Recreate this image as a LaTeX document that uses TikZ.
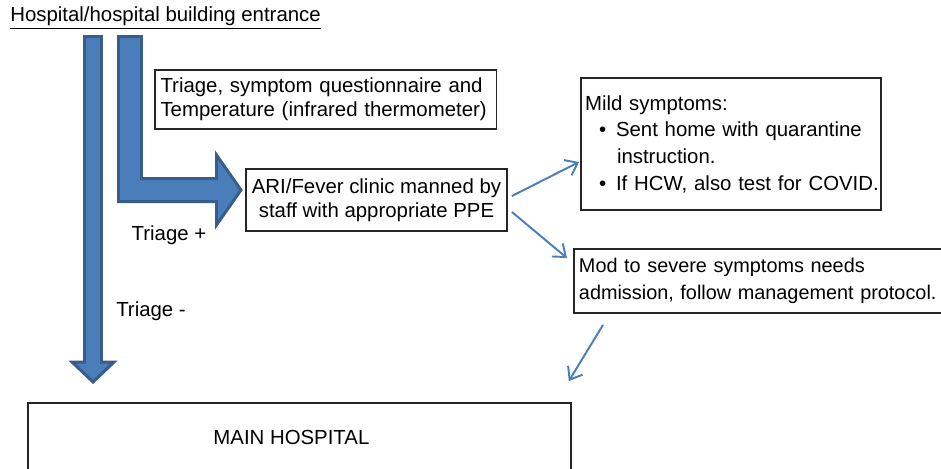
\documentclass[tikz,border=0pt]{standalone}
\usepackage{fontspec}
\setmainfont{Liberation Sans}
\usetikzlibrary{arrows.meta}

\definecolor{arrowfill}{HTML}{4A7EBB}
\definecolor{arrowline}{HTML}{385D8A}

\begin{document}
\begin{tikzpicture}[x=0.02cm, y=-0.02cm,
  every node/.style={font=\fontsize{11.6}{13.6}\selectfont},
  box/.style={draw=black!85, line width=1.1pt, inner ysep=0pt},
  bigarrow/.style={fill=arrowfill, draw=arrowline, line width=1.7pt, line join=miter},
  thinarrow/.style={draw=arrowfill, line width=1.1pt, -{Straight Barb[length=2.2mm, width=3.4mm]}}]

\useasboundingbox (0,0) rectangle (941,468);

% Entrance
\node[anchor=west, inner sep=0pt] (entrance) at (10,18) {\underline{Hospital/hospital building entrance}};

% Big arrows
\draw[bigarrow] (84.5,36.5) -- (101.5,36.5) -- (101.5,362) -- (114,362) -- (93,382) -- (72,362) -- (84.5,362) -- cycle;
\draw[bigarrow] (118.5,36.5) -- (141.5,36.5) -- (141.5,178.5) -- (216.5,178.5) -- (216.5,155) -- (241,190) -- (216.5,225) -- (216.5,201.5) -- (118.5,201.5) -- cycle;

% Boxes
\node[box, inner xsep=0.12cm, text width=6.6cm, align=left, minimum height=1.18cm] (triage) at (325.5,99.5) {Triage, symptom questionnaire and\\Temperature (infrared thermometer)};
\node[box, align=center, minimum width=5.18cm, minimum height=1.24cm] (ari) at (376.5,200) {ARI/Fever clinic manned by\\staff with appropriate PPE};
\node[box, inner xsep=0.08cm, text width=5.84cm, align=left, minimum height=2.64cm,
  font=\fontsize{11.6}{15.2}\selectfont] (mild) at (731,144) {\mbox{Mild symptoms:}\\
  \mbox{\hspace*{0.28cm}\makebox[0.34cm][l]{\textbullet}Sent home with quarantine}\\
  \mbox{\hspace*{0.64cm}instruction.}\\
  \mbox{\hspace*{0.28cm}\makebox[0.34cm][l]{\textbullet}If HCW, also test for COVID.}};
\node[box, anchor=north west, inner xsep=0.1cm, text width=7.7cm, align=left, minimum height=1.28cm,
  font=\fontsize{11.3}{15}\selectfont] (mod) at (573,248) {Mod to severe symptoms needs\\\mbox{admission, follow management protocol.}};
\node[box, anchor=north west, minimum width=10.86cm, minimum height=1.4cm] (main) at (27,402) {\hspace*{-0.32cm}MAIN HOSPITAL};

% Labels
\node (tplus) at (169,235) {Triage +};
\node (tminus) at (151,311) {Triage -};

% Thin arrows
\draw[thinarrow] ([shift={(4,-4)}]ari.east) -- ([shift={(-1,18)}]mild.west);
\draw[thinarrow] ([shift={(4,12)}]ari.east) -- ([shift={(-6,10)}]mod.north west);
\draw[thinarrow] ([shift={(30,11)}]mod.south west) -- ([shift={(-3,-21)}]main.north east);
\end{tikzpicture}
\end{document}
